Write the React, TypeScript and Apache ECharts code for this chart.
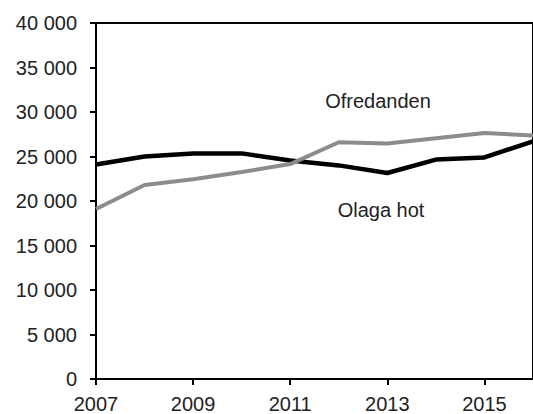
import React, { useEffect, useRef } from "react";
import * as echarts from "echarts";

const years = ["2007", "2008", "2009", "2010", "2011", "2012", "2013", "2014", "2015", "2016"];
const olagaHot = [24100, 25000, 25350, 25350, 24550, 24000, 23150, 24650, 24900, 26700];
const ofredanden = [19100, 21800, 22450, 23250, 24150, 26600, 26450, 27050, 27650, 27350];
const seriesNames = ["Olaga hot", "Ofredanden"];

const fmt = (v: number) => {
  const s = String(Math.round(v));
  return s.replace(/\B(?=(\d{3})+(?!\d))/g, " ");
};

export default function App() {
  const ref = useRef<HTMLDivElement>(null);
  useEffect(() => {
    if (!ref.current) return;
    const chart = echarts.init(ref.current, null, { renderer: "svg" });
    const font = "'Liberation Sans', Arial, sans-serif";
    chart.setOption({
      animation: false,
      backgroundColor: "#ffffff",
      grid: {
        left: 96,
        top: 23,
        right: -2,
        bottom: 33,
        show: true,
        borderColor: "#000",
        borderWidth: 2,
        backgroundColor: "transparent",
      },
      xAxis: {
        type: "category",
        data: years,
        boundaryGap: false,
        axisLine: { lineStyle: { color: "#000", width: 2 } },
        axisTick: { show: true, interval: 1, length: 6, lineStyle: { color: "#000", width: 2 } },
        axisLabel: { interval: 1, color: "#222", fontSize: 20, fontFamily: font, margin: 15 },
        splitLine: { show: false },
      },
      yAxis: {
        type: "value",
        min: 0,
        max: 40000,
        interval: 5000,
        axisLine: { show: true, lineStyle: { color: "#000", width: 2 } },
        axisTick: { show: true, length: 6, lineStyle: { color: "#000", width: 2 } },
        axisLabel: { color: "#222", fontSize: 20, fontFamily: font, margin: 19, formatter: fmt },
        splitLine: { show: false },
      },
      series: [
        {
          name: seriesNames[0],
          type: "line",
          data: olagaHot,
          symbol: "none",
          lineStyle: { color: "#000", width: 4.5 },
          z: 2,
        },
        {
          name: seriesNames[1],
          type: "line",
          data: ofredanden,
          symbol: "none",
          lineStyle: { color: "#8c8c8c", width: 4 },
          z: 3,
        },
      ],
      graphic: [
        {
          type: "text",
          x: 378,
          y: 101,
          style: {
            text: seriesNames[1],
            fill: "#222",
            font: `20px ${font}`,
            textAlign: "center",
            textVerticalAlign: "middle",
          },
        },
        {
          type: "text",
          x: 381,
          y: 210,
          style: {
            text: seriesNames[0],
            fill: "#222",
            font: `20px ${font}`,
            textAlign: "center",
            textVerticalAlign: "middle",
          },
        },
      ],
    });
    return () => chart.dispose();
  }, []);
  return (
    <div
      ref={ref}
      style={{ position: "fixed", left: 0, top: 0, width: 533, height: 414, background: "#fff" }}
    />
  );
}
